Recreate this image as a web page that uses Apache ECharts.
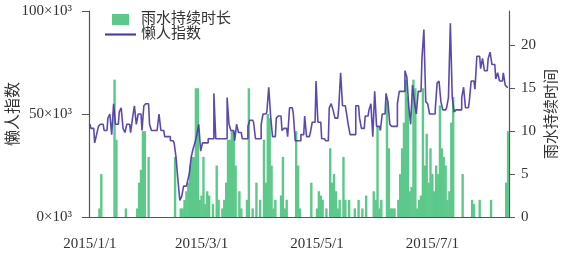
<!DOCTYPE html>
<html>
<head>
<meta charset="utf-8">
<script src="https://cdn.jsdelivr.net/npm/echarts@6/dist/echarts.min.js"></script>
<style>
  html, body { margin: 0; padding: 0; background: #fff; }
  #chart { width: 566px; height: 254px; }
</style>
</head>
<body>
<div id="chart"></div>
<script>
// 日期（2015/1/1 起，逐日）
var dates = [];
(function () {
    var d = new Date(2015, 0, 1);
    for (var i = 0; i < 222; i++) {
        dates.push(d.getFullYear() + '/' + (d.getMonth() + 1) + '/' + d.getDate());
        d.setDate(d.getDate() + 1);
    }
})();
var tickDates = ['2015/1/1', '2015/3/1', '2015/5/1', '2015/7/1'];
var leftTicks = [0, 50, 100];
var rightTicks = [0, 5, 10, 15, 20];

// 懒人指数（单位 10^3）
var lazyIndex = [
    45, 43, 43, 36, 40, 44, 45, 45, 42, 42,
    48, 50, 40, 55, 45, 45, 51, 53, 43, 41,
    45, 45, 41, 48, 54, 45, 50, 50, 42, 54,
    55, 55, 45, 42, 42, 42, 42, 50, 42, 42,
    39, 39, 39, 37, 37, 36, 29, 18, 8, 10,
    15, 15, 17, 21, 29, 33, 36, 40, 45, 32,
    36, 36, 36, 38, 38, 38, 60, 38, 38, 38,
    38, 38, 38, 58, 45, 42, 42, 37, 45, 41,
    41, 38, 38, 38, 44, 47, 47, 46, 38, 38,
    38, 45, 50, 50, 51, 63, 49, 39, 39, 48,
    49, 49, 42, 43, 43, 39, 53, 53, 50, 37,
    37, 37, 40, 40, 49, 39, 39, 41, 46, 46,
    66, 46, 46, 38, 38, 37, 37, 53, 55, 52,
    48, 48, 53, 70, 54, 54, 51, 45, 40, 40,
    40, 54, 54, 48, 43, 43, 49, 49, 52, 55,
    39, 61, 44, 44, 42, 50, 50, 60, 56, 45,
    44, 44, 44, 55, 61, 61, 61, 71, 68, 54,
    45, 64, 56, 50, 61, 61, 77, 91, 56, 55,
    50, 50, 50, 52, 65, 66, 56, 52, 52, 53,
    58, 94, 58, 51, 52, 52, 52, 58, 63, 53,
    53, 56, 66, 66, 62, 78, 78, 72, 77, 71,
    71, 77, 80, 74, 74, 67, 70, 66, 66, 70,
    64, 63
];

// 雨水持续时长（小时）
var rainHours = [
    0, 0, 0, 0, 0, 1, 5, 0, 0, 0,
    0, 0, 0, 16, 9, 0, 0, 0, 0, 1,
    0, 0, 0, 0, 0, 1, 4, 5.5, 10, 10,
    0, 7, 0, 0, 0, 0, 0, 0, 0, 0,
    0, 0, 0, 0, 0, 7, 0, 0, 1, 1,
    2, 3, 4, 6, 7, 7, 15, 15, 2, 2.5,
    7, 1.5, 3, 2.5, 0, 1.5, 0, 6, 2, 0,
    1, 2, 4, 9, 9, 10, 10, 6, 0, 3,
    1, 0, 0, 2, 15, 0, 1, 0, 4, 0,
    2, 0, 9, 4, 12, 11.5, 6, 1, 2, 0,
    0, 2.5, 7, 1, 2, 0, 0, 0, 0, 10,
    6, 1, 0, 0, 0, 0, 0, 4, 0, 0,
    1, 3, 2.5, 2, 0, 1, 0, 8, 4, 5,
    3, 1, 2, 0, 7, 2, 0, 2, 0, 0,
    1, 0, 2, 0, 1, 0, 2.5, 0, 0, 0,
    3, 2, 10.5, 1, 2, 0, 0, 13.5, 8, 1,
    1, 1, 0, 2, 5, 8, 11, 16, 14, 3,
    3.5, 16, 15, 1, 2, 2.5, 15, 6, 9.7, 4,
    8, 5, 3, 6, 5, 13, 8, 7, 6, 2,
    3, 11, 14, 0, 0, 0, 0, 5, 0, 0,
    0, 0, 2, 1.5, 0, 0, 2, 0, 0, 0,
    0, 0, 2, 0, 0, 0, 0, 0, 0, 0,
    4, 10
];

var axisColor = '#555';
var fontFamily = "'Liberation Serif', 'Noto Sans CJK SC', serif";

function showTick(index, value) {
    return tickDates.indexOf(value) >= 0;
}

var chart = echarts.init(document.getElementById('chart'));
var option = {
    animation: false,
    textStyle: { fontFamily: fontFamily, color: '#333' },
    grid: { left: 89, right: 57, top: 11, bottom: 37, containLabel: false, outerBoundsMode: 'none' },
    legend: {
        orient: 'vertical',
        left: 100,
        top: 7,
        padding: 5,
        itemWidth: 31,
        itemHeight: 11,
        itemGap: 0,
        textStyle: { fontSize: 15, fontFamily: fontFamily, color: '#333' },
        data: [
            { name: '雨水持续时长', icon: 'path://M0,0H17V11H0Z' },
            { name: '懒人指数', icon: 'path://M0,0H30V2H0Z' }
        ]
    },
    xAxis: {
        type: 'category',
        data: dates,
        boundaryGap: true,
        axisLine: { lineStyle: { color: axisColor, width: 1.2 } },
        axisTick: { interval: showTick, alignWithLabel: true, length: 7, lineStyle: { color: axisColor } },
        axisLabel: { interval: showTick, fontSize: 15, margin: 20, color: '#333' },
        splitLine: { show: false }
    },
    yAxis: [
        {
            type: 'value',
            min: 0,
            max: 100,
            interval: 50,
            name: '懒人指数',
            nameLocation: 'middle',
            nameRotate: 90,
            nameGap: 67,
            nameMoveOverlap: false,
            nameTextStyle: { fontSize: 16, color: '#333' },
            axisLine: { show: true, lineStyle: { color: axisColor, width: 1.2 } },
            axisTick: { show: true, length: 7, lineStyle: { color: axisColor }, customValues: leftTicks },
            axisLabel: {
                fontSize: 15,
                margin: 17,
                color: '#333',
                customValues: leftTicks,
                formatter: function (v) { return v + '×10³'; }
            },
            splitLine: { show: false }
        },
        {
            type: 'value',
            position: 'right',
            min: 0,
            max: 24,
            interval: 5,
            name: '雨水持续时间',
            nameLocation: 'middle',
            nameRotate: 90,
            nameGap: 36,
            nameMoveOverlap: false,
            nameTextStyle: { fontSize: 15, color: '#333' },
            axisLine: { show: true, lineStyle: { color: axisColor, width: 1.2 } },
            axisTick: { show: true, length: 6, lineStyle: { color: axisColor }, customValues: rightTicks },
            axisLabel: { fontSize: 15, margin: 12, color: '#333', customValues: rightTicks },
            splitLine: { show: false }
        }
    ],
    series: [
        {
            name: '雨水持续时长',
            type: 'bar',
            yAxisIndex: 1,
            data: rainHours,
            barWidth: 2.4,
            itemStyle: { color: '#5cc98a' },
            z: 2
        },
        {
            name: '懒人指数',
            type: 'line',
            yAxisIndex: 0,
            data: lazyIndex,
            step: 'middle',
            symbol: 'none',
            lineStyle: { color: '#4b35a5', width: 1.6, opacity: 0.9 },
            itemStyle: { color: '#4b35a5' },
            z: 3
        }
    ]
};
chart.setOption(option);
</script>
</body>
</html>
